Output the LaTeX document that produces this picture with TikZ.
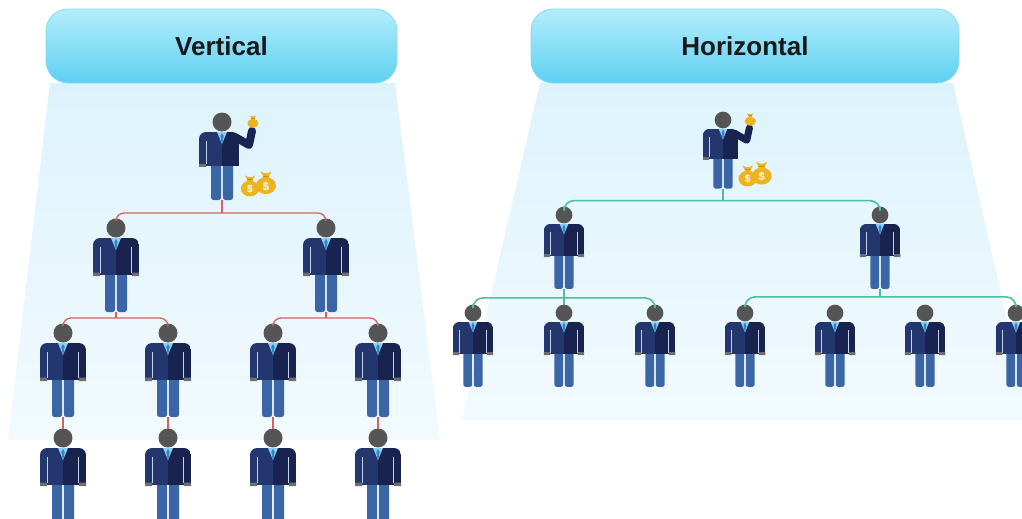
\documentclass[tikz,border=0pt]{standalone}
\usepackage{fontspec}
\setmainfont{Liberation Sans}
\usetikzlibrary{calc}

\definecolor{jkt}{HTML}{24366E}
\definecolor{jktd}{HTML}{18244F}
\definecolor{legc}{HTML}{3B66A6}
\definecolor{headc}{HTML}{555555}
\definecolor{cuffc}{HTML}{6E6E6E}
\definecolor{shirtc}{HTML}{8CCFF0}
\definecolor{tiec}{HTML}{2F86CC}
\definecolor{sepc}{HTML}{C5D3E6}
\definecolor{gold}{HTML}{EDB421}
\definecolor{golddk}{HTML}{C98F12}
\definecolor{redln}{HTML}{D9605F}
\definecolor{grnln}{HTML}{4DBF9C}
\definecolor{hdtop}{HTML}{B4EDFB}
\definecolor{hdbot}{HTML}{5ED0F2}
\definecolor{hdedge}{HTML}{86DAF2}
\definecolor{beamtop}{HTML}{DDF3FC}
\definecolor{beambot}{HTML}{F2FAFE}

\tikzset{
  header/.style={rounded corners=22pt, minimum height=74pt, top color=hdtop,
    bottom color=hdbot, draw=hdedge, line width=0.8pt, text=black!90,
    font=\bfseries\fontsize{26}{30}\selectfont},
  vcon/.style={draw=redln, line width=1.3pt, rounded corners=8pt},
  hcon/.style={draw=grnln, line width=1.6pt, rounded corners=10pt},
  beam/.style={top color=beamtop, bottom color=beambot},
  % gold sack with a dollar sign
  moneybag/.pic={
    \begin{scope}[scale=#1]
      \fill[gold] (0,0.5) ellipse (8 and 6.8);
      \fill[gold] (-2.6,-8) -- (2.6,-8) -- (2.2,-4) -- (-2.2,-4) -- cycle;
      \fill[gold] (-4.5,-11) -- (-1.5,-9.5) -- (1.5,-9.5) -- (4.5,-11)
                  -- (2.6,-7.5) -- (-2.6,-7.5) -- cycle;
      \draw[golddk, line width=0.8pt] (-2.6,-7.2) -- (2.6,-7.2);
      \node[text=white, scale=#1, inner sep=0pt,
            font=\bfseries\fontsize{9}{9}\selectfont] (-sign) at (0,1) {\$};
    \end{scope}
  },
  % small sack held in the hand
  pouch/.pic={
    \begin{scope}[scale=#1]
      \fill[gold] (0,0.5) ellipse (8 and 6.5);
      \fill[gold] (-2.6,-8) -- (2.6,-8) -- (2,-4) -- (-2,-4) -- cycle;
      \fill[gold] (-4.5,-11) -- (-1.5,-9.5) -- (1.5,-9.5) -- (4.5,-11)
                  -- (2.6,-7.5) -- (-2.6,-7.5) -- cycle;
      \draw[golddk, line width=0.8pt] (-2.6,-7.2) -- (2.6,-7.2);
    \end{scope}
  },
  % standing employee in a suit; origin at the head centre
  person/.pic={
    \begin{scope}[scale=#1]
      \fill[legc, rounded corners=2.5pt] (-11,40) rectangle (-0.9,84);
      \fill[legc, rounded corners=2.5pt] (0.9,40) rectangle (11,84);
      \begin{scope}
        \clip[rounded corners=7pt] (-23,10) rectangle (23,60);
        \fill[jkt] (-23,10) rectangle (0,47);
        \fill[jktd] (0,10) rectangle (23,47);
      \end{scope}
      \draw[sepc, line width=0.8pt] (-15.5,19) -- (-15.5,45) (15.5,19) -- (15.5,45);
      \fill[cuffc] (-23,44.5) rectangle (-15.8,48) (15.8,44.5) rectangle (23,48);
      \fill[shirtc] (-5,10) -- (5,10) -- (0,22) -- cycle;
      \fill[tiec] (0,11) -- (1.7,14) -- (0,23) -- (-1.7,14) -- cycle;
      \fill[headc] (0,0) circle (9.5);
      \coordinate (-top) at (0,-9.5);
      \coordinate (-bot) at (0,84);
    \end{scope}
  },
  % the owner, raising a sack, with two more sacks at his feet
  boss/.pic={
    \begin{scope}[scale=#1]
      \fill[legc, rounded corners=2.5pt] (-11,38) rectangle (-0.9,78);
      \fill[legc, rounded corners=2.5pt] (0.9,38) rectangle (11,78);
      \begin{scope}
        \clip[rounded corners=7pt] (-23,10) rectangle (17,60);
        \fill[jkt] (-23,10) rectangle (0,44);
        \fill[jktd] (0,10) rectangle (17,44);
      \end{scope}
      \draw[jktd, line width=#1*8pt, line cap=round, line join=round]
        (13,15) -- (27,23) -- (30,9);
      \draw[sepc, line width=0.8pt] (-15.5,19) -- (-15.5,42);
      \fill[cuffc] (-23,41.5) rectangle (-15.8,45);
      \fill[shirtc] (-5,10) -- (5,10) -- (0,22) -- cycle;
      \fill[tiec] (0,11) -- (1.7,14) -- (0,23) -- (-1.7,14) -- cycle;
      \fill[headc] (0,0) circle (9.5);
      \pic at (31,1) {pouch=0.7};
      \pic at (28,66) {moneybag=1.15};
      \pic at (44,63) {moneybag=1.25};
      \coordinate (-top) at (0,-9.5);
      \coordinate (-bot) at (0,78);
    \end{scope}
  }
}

\begin{document}
\begin{tikzpicture}[x=1pt,y=-1pt]
\useasboundingbox (0,0) rectangle (1022,519);
\clip (0,0) rectangle (1022,519);
\fill[white] (0,0) rectangle (1022,519);

% light beams under the two headers
\shade[beam] (50,83) -- (395,83) -- (440,440) -- (8,440) -- cycle;
\shade[beam] (540,83) -- (953,83) -- (1030,420) -- (462,420) -- cycle;

% headers
\node[header, minimum width=351pt] (hv) at (221.5,46) {Vertical};
\node[header, minimum width=428pt] (hh) at (745,46) {Horizontal};

% vertical organisation
\pic (vb) at (222,122) {boss=1};
\pic (v2a) at (116,228) {person=1};
\pic (v2b) at (326,228) {person=1};
\pic (v3a) at (63,333) {person=1};
\pic (v3b) at (168,333) {person=1};
\pic (v3c) at (273,333) {person=1};
\pic (v3d) at (378,333) {person=1};
\pic (v4a) at (63,438) {person=1};
\pic (v4b) at (168,438) {person=1};
\pic (v4c) at (273,438) {person=1};
\pic (v4d) at (378,438) {person=1};

\coordinate (vj1) at ($(vb-bot)+(0,13)$);
\draw[vcon] (v2a-top) |- (vj1) -| (v2b-top);
\draw[vcon] (vb-bot) -- (vj1);
\coordinate (vj2) at ($(v2a-bot)+(0,6)$);
\draw[vcon] (v3a-top) |- (vj2) -| (v3b-top);
\draw[vcon] (v2a-bot) -- (vj2);
\coordinate (vj3) at ($(v2b-bot)+(0,6)$);
\draw[vcon] (v3c-top) |- (vj3) -| (v3d-top);
\draw[vcon] (v2b-bot) -- (vj3);
\draw[vcon] (v3a-bot) -- (v4a-top);
\draw[vcon] (v3b-bot) -- (v4b-top);
\draw[vcon] (v3c-bot) -- (v4c-top);
\draw[vcon] (v3d-bot) -- (v4d-top);

% horizontal organisation
\pic (hb) at (723,120) {boss=0.88};
\pic (h2a) at (564,215) {person=0.88};
\pic (h2b) at (880,215) {person=0.88};
\pic (h3a) at (473,313) {person=0.88};
\pic (h3b) at (564,313) {person=0.88};
\pic (h3c) at (655,313) {person=0.88};
\pic (h3d) at (745,313) {person=0.88};
\pic (h3e) at (835,313) {person=0.88};
\pic (h3f) at (925,313) {person=0.88};
\pic (h3g) at (1016,313) {person=0.88};

\coordinate (hj1) at ($(hb-bot)+(0,12)$);
\draw[hcon] (h2a-top) |- (hj1) -| (h2b-top);
\draw[hcon] (hb-bot) -- (hj1);
\coordinate (hj2) at ($(h2a-bot)+(0,9)$);
\draw[hcon] (h3a-top) |- (hj2) -| (h3c-top);
\draw[hcon] (h2a-bot) -- (h3b-top);
\coordinate (hj3) at ($(h2b-bot)+(0,8)$);
\draw[hcon] (h3d-top) |- (hj3) -| (h3g-top);
\draw[hcon] (h2b-bot) -- (hj3);
\end{tikzpicture}
\end{document}
